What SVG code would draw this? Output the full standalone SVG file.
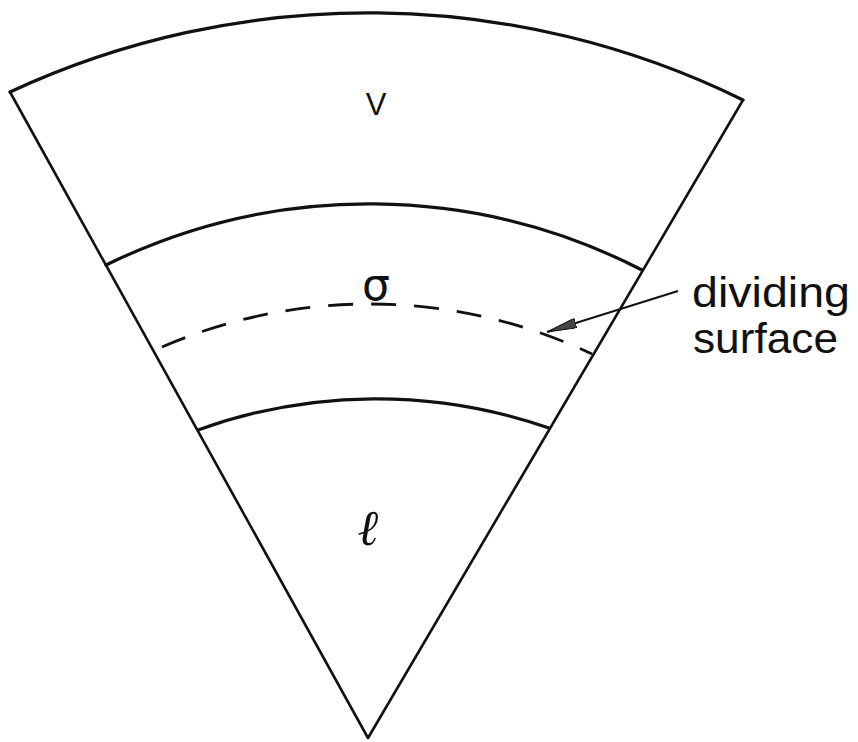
<svg xmlns="http://www.w3.org/2000/svg" width="858" height="742" viewBox="0 0 858 742">
<style>
.edge{fill:none;stroke:#111;stroke-width:2.6;stroke-linecap:round;stroke-linejoin:round}
.arc{fill:none;stroke:#111;stroke-width:3.2;stroke-linecap:round}
.dash{fill:none;stroke:#111;stroke-width:2.8;stroke-dasharray:25 18}
.lbl{font-family:"Liberation Sans",Arial,sans-serif;fill:#111}
.sym{font-family:"DejaVu Sans",sans-serif;fill:#111}
.scr{font-family:"DejaVu Serif",serif;font-style:italic;fill:#111}
.conn{fill:none;stroke:#111;stroke-width:2}
</style>
<defs>
<marker id="ah" viewBox="0 0 30 10" refX="30" refY="5" markerWidth="30" markerHeight="10" markerUnits="userSpaceOnUse" orient="auto">
<path d="M0,0 L30,5 L0,10 Z" fill="#444" stroke="#111" stroke-width="1"/>
</marker>
</defs>
<rect width="858" height="742" fill="#fff"/>
<g id="sector">
<path class="edge" d="M10,92 L368,738 L743,100"/>
</g>
<g id="region-v">
<path class="arc" d="M10,92 A850,850 0 0 1 743,100"/>
<text class="lbl" x="376" y="115" font-size="31" text-anchor="middle">V</text>
</g>
<g id="region-sigma">
<path class="arc" d="M106,265 A597,597 0 0 1 642,270"/>
<text class="sym" x="376" y="300" font-size="44" text-anchor="middle">σ</text>
</g>
<g id="dividing-surface">
<path class="dash" d="M162,347 A521,521 0 0 1 592,354"/>
</g>
<g id="region-l">
<path class="arc" d="M198,430 A525,525 0 0 1 549,428"/>
<text class="scr" x="368" y="545" font-size="50" text-anchor="middle">ℓ</text>
</g>
<g id="label-dividing-surface">
<text class="lbl" x="692" y="307" font-size="43" textLength="158" lengthAdjust="spacingAndGlyphs">dividing</text>
<text class="lbl" x="693" y="353" font-size="43" textLength="145" lengthAdjust="spacingAndGlyphs">surface</text>
</g>
<g id="connectors">
<path class="conn" d="M678,291 L547,332" marker-end="url(#ah)"/>
</g>
</svg>
